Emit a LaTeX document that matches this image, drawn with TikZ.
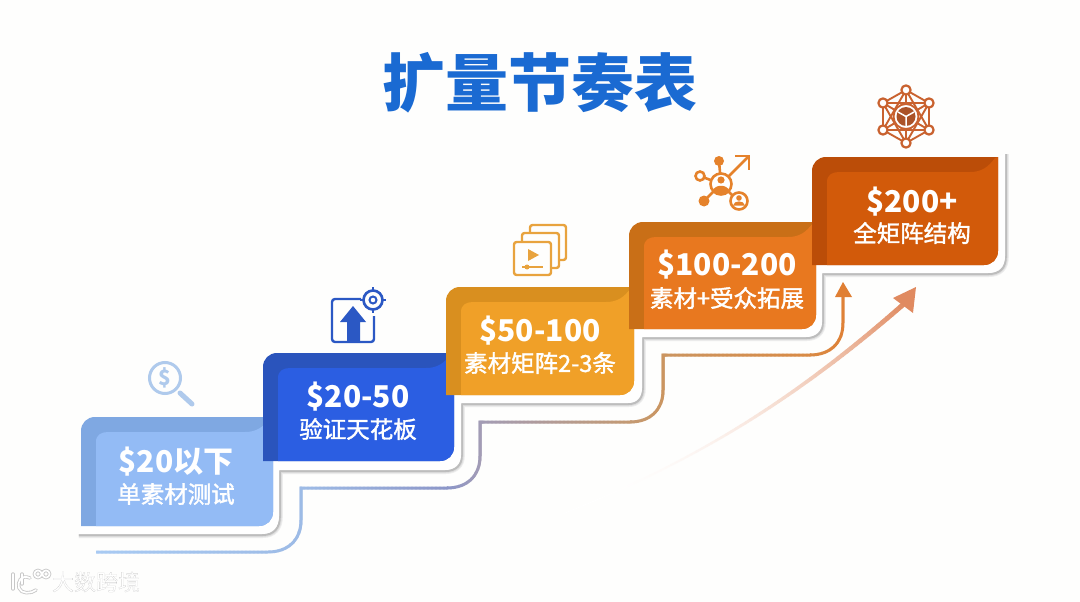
\documentclass[tikz,border=0pt]{standalone}
\usepackage{fontspec}
\setmainfont{Noto Sans CJK SC}
\newfontfamily\medfont[FakeBold=1.6]{Noto Sans CJK SC}
\newfontfamily\markfont[FakeBold=0.3]{Noto Sans CJK SC}
\usetikzlibrary{calc}
\definecolor{bgedge}{HTML}{FEFEFD}
\definecolor{titleblue}{HTML}{1A6AD2}
\definecolor{aD}{HTML}{7FA8E2}\definecolor{aL}{HTML}{93BBF5}
\definecolor{bD}{HTML}{2A54BC}\definecolor{bL}{HTML}{2B5EE2}
\definecolor{cD}{HTML}{D98F1F}\definecolor{cL}{HTML}{F0A028}
\definecolor{dD}{HTML}{C96F17}\definecolor{dL}{HTML}{E8781F}
\definecolor{eD}{HTML}{BB4D08}\definecolor{eL}{HTML}{D25A0A}
\definecolor{lnA}{HTML}{A9CBF3}\definecolor{lnB}{HTML}{9DBBE6}
\definecolor{lnC}{HTML}{8C96C8}\definecolor{lnD}{HTML}{A39CB5}
\definecolor{lnE}{HTML}{C49A72}\definecolor{lnF}{HTML}{CB9560}
\definecolor{lnG}{HTML}{D98A45}\definecolor{lnH}{HTML}{E07F33}
\definecolor{swoosh}{HTML}{E08A60}
\definecolor{icoA}{HTML}{AFCAEC}\definecolor{icoB}{HTML}{2B58C4}
\definecolor{icoC}{HTML}{E8A33E}\definecolor{icoD}{HTML}{E5822B}
\definecolor{icoE}{HTML}{C9622F}
\tikzset{
  bigtxt/.style={text=white,inner sep=0pt,font=\bfseries\fontsize{30}{30}\selectfont},
  subtxt/.style={text=white,inner sep=0pt,font=\medfont\fontsize{23.5}{23.5}\selectfont},
  stairline/.style={line width=3pt},
}
% x0 y0 xR yB dark light
\newcommand\stepshape[6]{%
  \fill[#5] (#1,#4) -- (#1,#2+14) .. controls (#1,#2+6) and (#1+6,#2) .. (#1+14,#2)
    -- (#3,#2) -- (#3,#4-14) .. controls (#3,#4-6) and (#3-6,#4) .. (#3-14,#4) -- cycle;
  \fill[#6] (#1+15,#4) -- (#1+15,#2+25) .. controls (#1+15,#2+18) and (#1+20,#2+15) .. (#1+27,#2+15)
    -- (#3-28,#2+15) .. controls (#3-16,#2+15) and (#3-10,#2+10) .. (#3-3,#2+1) -- (#3,#2)
    -- (#3,#4-14) .. controls (#3,#4-6) and (#3-6,#4) .. (#3-14,#4) -- cycle;
}
\newcommand\boardpath{(78,534) -- (262,534) .. controls (273,534) and (279,527) .. (279,516)
  -- (279,470) -- (445,470) .. controls (455,470) and (461,464) .. (461,455)
  -- (461,403) -- (628,403) .. controls (637,403) and (642,397) .. (642,388)
  -- (642,337) -- (806,337) .. controls (816,337) and (822,331) .. (822,322)
  -- (822,273) -- (988,273) .. controls (999,273) and (1005,267) .. (1005,256) -- (1005,153)}
\begin{document}
\begin{tikzpicture}[x=1pt,y=-1pt]
\useasboundingbox (0,0) rectangle (1080,602);
\fill[bgedge] (0,0) rectangle (1080,602);

% stair connector
\coordinate (lineStart) at (96,552);
\coordinate (lineEnd) at (843,296);
\newcommand\stairpath{(lineStart) -- (268,552) .. controls (288,552) and (301,540) .. (301,520)
  -- (301,488) -- (447,488) .. controls (467,488) and (480,476) .. (480,456)
  -- (480,422) -- (630,422) .. controls (650,422) and (663,410) .. (663,390)
  -- (663,355) -- (810,355) .. controls (830,355) and (843,343) .. (843,323) -- (lineEnd)}
\foreach \xa/\xb/\ca/\cb in {90/300/lnA/lnB,300/447/lnB/lnC,447/480/lnC/lnD,480/630/lnD/lnE,630/663/lnE/lnF,663/810/lnF/lnG,810/850/lnG/lnH}{
  \pgfmathsetmacro\xn{\xa+4}
  \foreach \x in {\xa,\xn,...,\xb}{
    \pgfmathsetmacro\pct{min(100,max(0,(\x-\xa)/(\xb-\xa)*100))}
    \begin{scope}
      \clip (\x-0.3,0) rectangle (\x+4.3,602);
      \draw[stairline,color=\cb!\pct!\ca] \stairpath;
    \end{scope}
  }
}
\fill[lnH] (843,282) coordinate (tipA) -- (852,297) -- (835,297) -- cycle;

% swoosh arrow
\foreach \i in {0,...,69}{
  \pgfmathsetmacro\ta{\i/70}
  \pgfmathsetmacro\tb{(\i+1)/70}
  \pgfmathsetmacro\ax{(1-\ta)^3*560+3*(1-\ta)^2*\ta*700+3*(1-\ta)*\ta^2*800+\ta^3*905}
  \pgfmathsetmacro\ay{(1-\ta)^3*515+3*(1-\ta)^2*\ta*460+3*(1-\ta)*\ta^2*395+\ta^3*303}
  \pgfmathsetmacro\bx{(1-\tb)^3*560+3*(1-\tb)^2*\tb*700+3*(1-\tb)*\tb^2*800+\tb^3*905}
  \pgfmathsetmacro\by{(1-\tb)^3*515+3*(1-\tb)^2*\tb*460+3*(1-\tb)*\tb^2*395+\tb^3*303}
  \pgfmathsetmacro\pc{100*\ta^2.4}
  \pgfmathsetmacro\wd{0.8+4.2*\ta}
  \draw[line width=\wd pt,line cap=round,color=swoosh!\pc!white] (\ax,\ay) -- (\bx,\by);
}
\fill[swoosh] (916,287) coordinate (tipB) -- (913,313) -- (893,298) -- cycle;

% board with soft shadow
\begin{scope}[shift={(0.8,1)}]
\draw[black!7,line width=6pt,line join=round] \boardpath;
\draw[black!13,line width=4pt,line join=round] \boardpath;
\draw[black!26,line width=2pt,line join=round] \boardpath;
\end{scope}
\fill[white] \boardpath -- (985,165) -- (640,300) -- (300,440) -- (90,500) -- cycle;

% steps
\stepshape{81}{417}{273}{526}{aD}{aL}
\stepshape{263}{353}{454}{461}{bD}{bL}
\stepshape{446}{287}{634}{395}{cD}{cL}
\stepshape{629}{222}{816}{329}{dD}{dL}
\stepshape{812}{157}{998}{265}{eD}{eL}

% texts
\node[text=titleblue,inner sep=0pt,font=\bfseries\fontsize{63}{63}\selectfont] (title) at (540,83) {扩量节奏表};
\node[bigtxt] (t1) at (176,462) {\$20以下};
\node[subtxt] (s1) at (176,494) {单素材测试};
\node[bigtxt] (t2) at (358,397) {\$20-50};
\node[subtxt] (s2) at (358,429) {验证天花板};
\node[bigtxt] (t3) at (540,331) {\$50-100};
\node[subtxt] (s3) at (540,363) {素材矩阵2-3条};
\node[bigtxt] (t4) at (727,265) {\$100-200};
\node[subtxt] (s4) at (727,298) {素材+受众拓展};
\node[bigtxt] (t5) at (912,202) {\$200+};
\node[subtxt] (s5) at (912,233) {全矩阵结构};

% icon 1: magnifier
\draw[icoA,line width=3pt] (165,378) circle (15.5);
\draw[icoA,line width=5pt,line cap=round] (180,393) -- (192,404);
\node[text=icoA,inner sep=0pt,font=\bfseries\fontsize{21}{21}\selectfont] (dollar) at (165,378) {\$};

% icon 2: arrow and target
\draw[icoB,line width=2.4pt,line join=round,rounded corners=3pt] (361,299) -- (332,299) -- (332,342) -- (374,342) -- (374,316);
\fill[icoB] (353,306) -- (366,322) -- (360,322) -- (360,342) -- (347,342) -- (347,322) -- (340,322) -- cycle;
\draw[icoB,line width=2.6pt] (373,300) circle (9.5);
\draw[icoB,line width=2pt] (373,300) circle (3.5);
\draw[icoB,line width=1.6pt] (373,287) -- (373,291) (373,309) -- (373,313) (360,300) -- (364,300) (382,300) -- (386,300);

% icon 3: video stack
\begin{scope}[icoC,line width=2.4pt,line join=round]
\draw[rounded corners=2.5pt] (530,233) -- (530,225) -- (566,225) -- (566,260) -- (560,260);
\draw[rounded corners=2.5pt] (522,242) -- (522,233) -- (559,233) -- (559,268) -- (552,268);
\draw[rounded corners=2.5pt] (514,242) rectangle (551,275);
\fill[icoC] (528,249) -- (539,255) -- (528,261) -- cycle;
\draw[line width=1.6pt] (522,267) -- (543,267);
\fill[icoC] (527,267) circle (2.5);
\end{scope}

% icon 4: network
\begin{scope}[icoD,line width=2.6pt]
\draw (719,161) -- (721,184) (700,176) -- (721,184) (704,201) -- (721,184) (738,201) -- (721,184) (721,184) -- (749,156);
\draw[line join=miter] (735,156) -- (749,156) -- (749,170);
\fill[white] (721,184) circle (10.5);
\draw (721,184) circle (10.5);
\fill[icoD] (721,180) circle (3.6);
\fill[icoD] (713,191) .. controls (714,184) and (728,184) .. (729,191) .. controls (726,194) and (716,194) .. (713,191) -- cycle;
\fill[icoD] (719,161) circle (5);
\fill[icoD] (704,201) circle (5.5);
\fill[white] (700,176) circle (4.5);
\draw (700,176) circle (4.5);
\fill[white] (739,201) circle (8.5);
\draw (739,201) circle (8.5);
\fill[icoD] (739,198) circle (2.8);
\fill[icoD] (733,205.5) .. controls (734,200) and (744,200) .. (745,205.5) -- cycle;
\end{scope}

% icon 5: molecule
\begin{scope}[icoE,line width=1.9pt,line join=round]
\coordinate (h1) at (906,90);\coordinate (h2) at (929,103);\coordinate (h3) at (929,130);
\coordinate (h4) at (906,143);\coordinate (h5) at (883,130);\coordinate (h6) at (883,103);
\coordinate (hc) at (906,116.5);
\draw (h1) -- (h2) -- (h3) -- (h4) -- (h5) -- (h6) -- cycle;
\draw (h1) -- (h3) -- (h5) -- cycle;
\draw (h2) -- (h4) -- (h6) -- cycle;
\draw (h1) -- (h4) (h2) -- (h5) (h3) -- (h6);
\fill[white] (hc) circle (12.5);
\draw (hc) circle (12.5);
\fill[icoE!85!black] (hc) circle (9.5);
\draw[white,line width=1.5pt] (hc) -- (906,126) (hc) -- (898,112) (hc) -- (914,112);
\foreach \n in {h1,h2,h3,h4,h5,h6}{\fill[white] (\n) circle (4.6);\draw[line width=2.2pt] (\n) circle (4.6);}
\end{scope}

% watermark
\begin{scope}[line cap=round]
\foreach \wcol/\wwd in {black!22/3.4pt,white/1.7pt}{
  \draw[\wcol,line width=\wwd] (13,574) -- (13,589);
  \draw[\wcol,line width=\wwd] (30,578) .. controls (21,574) and (17,582) .. (19,588) .. controls (21,594) and (31,594) .. (36,590);
  \draw[\wcol,line width=\wwd] (22,574) -- (22,584);
  \draw[\wcol,line width=\wwd] (38,574) circle (3.6);
  \draw[\wcol,line width=\wwd] (46,574) circle (3.6);
}
\end{scope}
\node[inner sep=0pt,text=white,font=\markfont\fontsize{22}{22}\selectfont] (mark) at (96,582) {\special{pdf:code 0.72 G}大数跨境};
\end{tikzpicture}
\end{document}
